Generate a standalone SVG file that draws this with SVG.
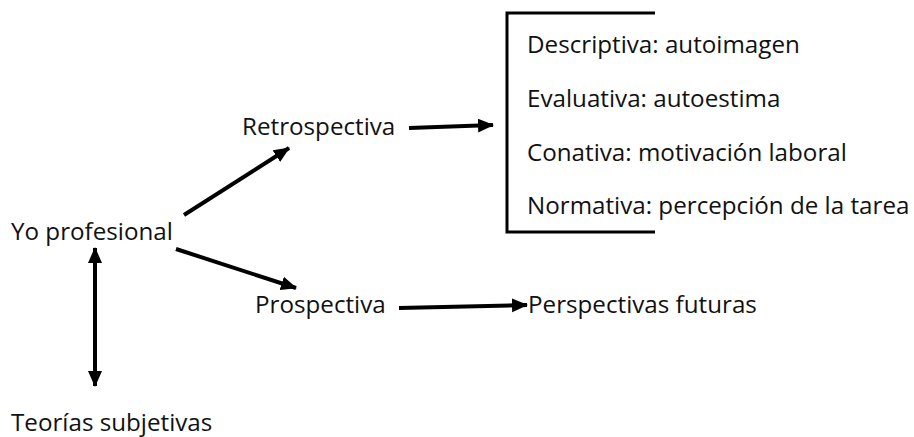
<svg xmlns="http://www.w3.org/2000/svg" width="914" height="437" viewBox="0 0 914 437">
<style>
text{font-family:"Open Sans","Noto Sans",sans-serif;font-size:24.2px;fill:#111}
.c{stroke:#000;stroke-width:4;fill:none}
.b{stroke:#000;stroke-width:3;fill:none}
</style>
<defs>
<marker id="ah" markerUnits="userSpaceOnUse" markerWidth="16" markerHeight="16" viewBox="0 0 16 16" refX="15" refY="8" orient="auto-start-reverse">
<path d="M0,1 L16,8 L0,15 Z" fill="#000"/>
</marker>
</defs>
<rect width="914" height="437" fill="#fff"/>
<g id="yo"><text x="11" y="240">Yo profesional</text></g>
<g id="retro"><text x="242" y="135">Retrospectiva</text></g>
<g id="prosp"><text x="255" y="313">Prospectiva</text></g>
<g id="persp"><text x="528" y="313">Perspectivas futuras</text></g>
<g id="teorias"><text x="11" y="431">Teorías subjetivas</text></g>
<g id="dims">
<path class="b" d="M655,13 H507 V232 H655"/>
<text x="527" y="53">Descriptiva: autoimagen</text>
<text x="527" y="107">Evaluativa: autoestima</text>
<text x="527" y="161">Conativa: motivación laboral</text>
<text x="527" y="214">Normativa: percepción de la tarea</text>
</g>
<g id="connectors">
<line class="c" x1="184" y1="215" x2="289" y2="148" marker-end="url(#ah)"/>
<line class="c" x1="176" y1="249" x2="296" y2="288" marker-end="url(#ah)"/>
<line class="c" x1="409" y1="128" x2="493" y2="125" marker-end="url(#ah)"/>
<line class="c" x1="399" y1="308" x2="527" y2="305" marker-end="url(#ah)"/>
<line class="c" x1="95" y1="248" x2="95" y2="386" marker-start="url(#ah)" marker-end="url(#ah)"/>
</g>
</svg>
